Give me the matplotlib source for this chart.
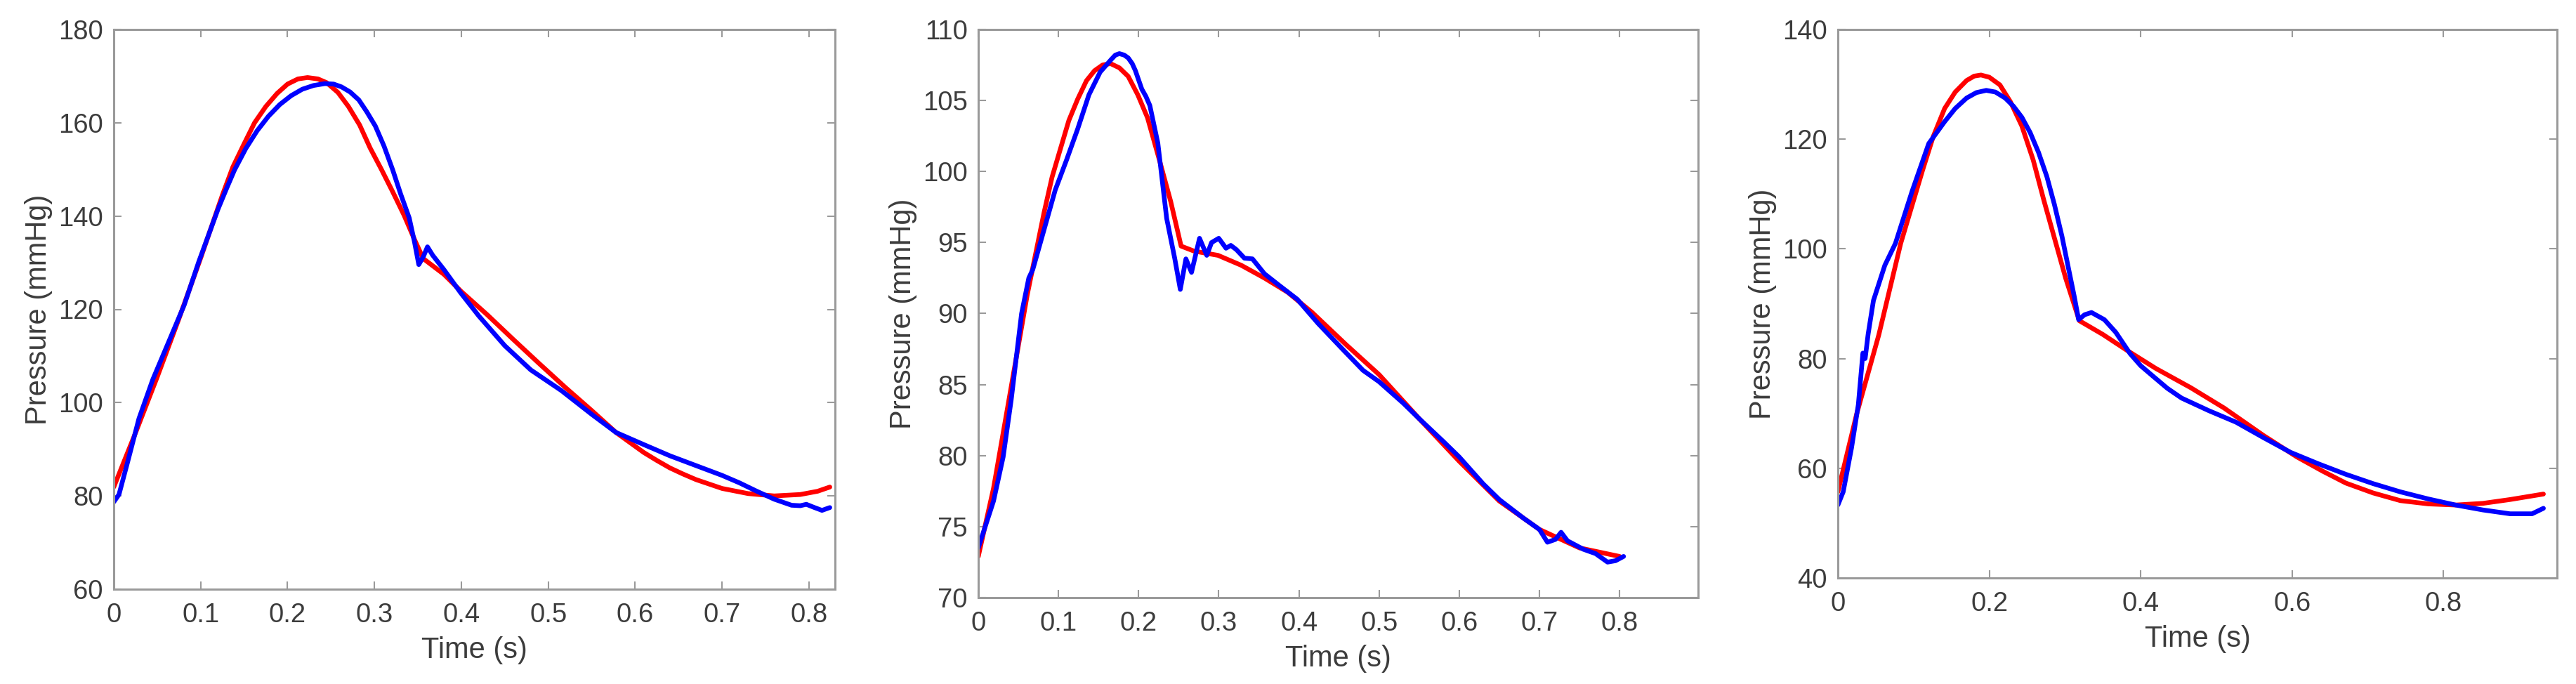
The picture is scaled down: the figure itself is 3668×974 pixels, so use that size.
import matplotlib
matplotlib.use("Agg")
import matplotlib.pyplot as plt

plt.rcParams['font.family'] = ['Liberation Sans', 'DejaVu Sans']

# --- panel 1 ---
t1_red = [0, 0.025, 0.05, 0.075, 0.10, 0.125, 0.137, 0.15, 0.162, 0.175, 0.188, 0.20, 0.212,
          0.223, 0.235, 0.245, 0.258, 0.27, 0.283, 0.295, 0.308, 0.321, 0.334, 0.346, 0.356,
          0.38, 0.40, 0.43, 0.46, 0.49, 0.52, 0.55, 0.578, 0.61, 0.625, 0.64, 0.655, 0.67,
          0.70, 0.73, 0.76, 0.79, 0.81, 0.824]
p1_red = [81.9, 93.5, 105.5, 118.0, 131.0, 144.5, 150.5, 155.5, 160.0, 163.5, 166.3, 168.3, 169.4,
          169.7, 169.4, 168.6, 166.5, 163.5, 159.5, 154.6, 150.0, 145.2, 140.2, 135.0, 130.9,
          127.5, 123.8, 118.8, 113.5, 108.3, 103.2, 98.3, 93.6, 89.3, 87.6, 86.0, 84.7, 83.5,
          81.6, 80.5, 80.0, 80.3, 81.0, 81.9]
t1_blue = [0, 0.006, 0.016, 0.029, 0.045, 0.062, 0.081, 0.098, 0.12, 0.13, 0.139, 0.152, 0.165,
           0.178, 0.191, 0.204, 0.217, 0.23, 0.243, 0.253, 0.262, 0.272, 0.282, 0.291, 0.301,
           0.311, 0.321, 0.33, 0.34, 0.346, 0.351, 0.356, 0.361, 0.367, 0.38, 0.399, 0.42,
           0.45, 0.48, 0.515, 0.55, 0.578, 0.61, 0.64, 0.67, 0.70, 0.72, 0.74, 0.76, 0.78, 0.79,
           0.797, 0.805, 0.815, 0.824]
p1_blue = [78.7, 80.3, 87.3, 96.6, 105.0, 112.5, 120.9, 130.3, 141.5, 146.0, 149.9, 154.5, 158.3,
           161.4, 163.9, 165.8, 167.2, 168.0, 168.4, 168.3, 167.7, 166.6, 164.9, 162.4, 159.3,
           155.0, 149.9, 144.8, 139.6, 134.5, 129.6, 131.2, 133.4, 131.6, 128.5, 123.6, 118.6,
           112.2, 107.0, 102.6, 97.5, 93.6, 91.0, 88.6, 86.5, 84.4, 82.8, 81.0, 79.3, 78.0, 77.9,
           78.2, 77.6, 76.9, 77.5]

# --- panel 2 ---
t2_red = [0, 0.019, 0.04, 0.061, 0.082, 0.092, 0.103, 0.113, 0.124, 0.135, 0.145, 0.155, 0.165,
          0.176, 0.187, 0.199, 0.211, 0.225, 0.240, 0.253, 0.269, 0.299, 0.328, 0.357, 0.386,
          0.416, 0.459, 0.5, 0.55, 0.6, 0.65, 0.7, 0.75, 0.8]
p2_red = [72.9, 77.7, 84.5, 91.3, 97.1, 99.6, 101.7, 103.6, 105.1, 106.4, 107.1, 107.5, 107.6,
          107.3, 106.7, 105.4, 103.8, 101.0, 97.9, 94.75, 94.4, 94.1, 93.4, 92.5, 91.5,
          90.1, 87.8, 85.7, 82.6, 79.6, 76.8, 74.8, 73.5, 72.9]
t2_blue = [0, 0.019, 0.031, 0.041, 0.054, 0.063, 0.068, 0.082, 0.096, 0.11, 0.124, 0.138, 0.152,
           0.166, 0.171, 0.176, 0.182, 0.187, 0.192, 0.196, 0.204, 0.209, 0.214, 0.224, 0.235,
           0.245, 0.252, 0.259, 0.266, 0.276, 0.285, 0.291, 0.300, 0.309, 0.315, 0.322, 0.332,
           0.342, 0.357, 0.375, 0.398, 0.424, 0.456, 0.48, 0.5, 0.53, 0.55, 0.58, 0.6, 0.63,
           0.65, 0.68, 0.7, 0.71, 0.72, 0.727, 0.735, 0.745, 0.755, 0.77, 0.785, 0.795, 0.805]
p2_blue = [73.5, 76.8, 79.9, 83.9, 90.0, 92.5, 93.1, 95.9, 98.7, 100.8, 103.0, 105.4, 107.0,
           107.9, 108.2, 108.3, 108.2, 108.0, 107.6, 107.1, 105.8, 105.3, 104.65, 102.0, 96.7,
           93.9, 91.7, 93.85, 92.9, 95.3, 94.1, 95.0, 95.3, 94.6, 94.8, 94.5, 93.9,
           93.85, 92.8, 92.0, 91.0, 89.3, 87.4, 86.0, 85.2, 83.7, 82.6, 81.0, 79.9, 78.0,
           76.9, 75.6, 74.8, 73.9, 74.1, 74.6, 74.0, 73.7, 73.4, 73.1, 72.5, 72.6, 72.9]

# --- panel 3 ---
t3_red = [0, 0.025, 0.054, 0.083, 0.112, 0.126, 0.141, 0.155, 0.17, 0.18, 0.189, 0.2, 0.214,
          0.228, 0.243, 0.258, 0.272, 0.287, 0.301, 0.319, 0.35, 0.383, 0.42, 0.466, 0.51,
          0.562, 0.606, 0.64, 0.671, 0.707, 0.743, 0.78, 0.816, 0.852, 0.888, 0.932]
p3_red = [55.7, 70.0, 84.3, 101.0, 114.4, 120.5, 125.6, 128.6, 130.7, 131.5, 131.7, 131.3, 129.9,
          126.8, 122.4, 116.2, 108.9, 101.5, 94.6, 86.9, 84.4, 81.4, 78.2, 74.7, 71.0,
          66.0, 62.1, 59.5, 57.3, 55.5, 54.1, 53.5, 53.3, 53.6, 54.3, 55.3]
t3_blue = [0, 0.007, 0.018, 0.027, 0.033, 0.036, 0.04, 0.047, 0.062, 0.076, 0.098, 0.12, 0.141,
           0.155, 0.17, 0.183, 0.196, 0.208, 0.221, 0.232, 0.243, 0.254, 0.265, 0.276, 0.286,
           0.296, 0.305, 0.312, 0.318, 0.326, 0.335, 0.352, 0.367, 0.386, 0.40, 0.417, 0.435,
           0.454, 0.49, 0.526, 0.562, 0.598, 0.635, 0.671, 0.707, 0.743, 0.78, 0.816, 0.852,
           0.888, 0.917, 0.932]
p3_blue = [53.3, 55.7, 63.7, 71.6, 81.0, 80.0, 84.5, 90.6, 97.0, 101.0, 110.5, 119.2, 123.2,
           125.6, 127.5, 128.5, 128.9, 128.6, 127.5, 126.0, 124.0, 121.2, 117.6, 113.2, 108.1,
           102.3, 96.2, 91.5, 87.1, 88.0, 88.4, 87.1, 84.8, 80.9, 78.7, 76.7, 74.6,
           72.8, 70.5, 68.4, 65.6, 62.9, 60.8, 58.9, 57.2, 55.7, 54.4, 53.3, 52.4,
           51.7, 51.7, 52.7]

x_ticks_1 = [0, 0.1, 0.2, 0.3, 0.4, 0.5, 0.6, 0.7, 0.8]
x_ticks_3 = [0, 0.2, 0.4, 0.6, 0.8]
y_ticks_1 = [60, 80, 100, 120, 140, 160, 180]
y_ticks_2 = [70, 75, 80, 85, 90, 95, 100, 105, 110]
y_ticks_3 = [40, 60, 80, 100, 120, 140]

W, H = 3668, 974
fig = plt.figure(figsize=(W / 100, H / 100), dpi=100)

# axes boxes in pixels: left, top, right, bottom
boxes = [(162, 42, 1189, 839), (1393, 42, 2418, 851), (2617, 42, 3641, 823)]
panels = [
    (t1_red, p1_red, t1_blue, p1_blue, (0, 0.83), (60, 180), x_ticks_1, y_ticks_1),
    (t2_red, p2_red, t2_blue, p2_blue, (0, 0.898), (70, 110), x_ticks_1, y_ticks_2),
    (t3_red, p3_red, t3_blue, p3_blue, (0, 0.95), (40, 140), x_ticks_3, y_ticks_3),
]

spine_col = '#9a9a9a'
text_col = '#3c3c3c'

for (l, t, r, b), (tr, pr, tb, pb, xl, yl, xt, yt) in zip(boxes, panels):
    ax = fig.add_axes([l / W, 1 - b / H, (r - l) / W, (b - t) / H])
    ax.plot(tr, pr, color='#ff0000', lw=4.8, solid_joinstyle='round', solid_capstyle='round')
    ax.plot(tb, pb, color='#0000ff', lw=4.8, solid_joinstyle='round', solid_capstyle='round')
    ax.set_xlim(*xl)
    ax.set_ylim(*yl)
    ax.set_xticks(xt)
    ax.set_yticks(yt)
    ax.set_xticklabels([f'{v:g}' for v in xt])
    ax.tick_params(direction='in', length=8, width=1.5, color=spine_col,
                   top=True, right=True, labelsize=27.5, labelcolor=text_col)
    ax.tick_params(axis='x', pad=14)
    ax.tick_params(axis='y', pad=11)
    for s in ax.spines.values():
        s.set_color(spine_col)
        s.set_linewidth(2.2)
    ax.set_xlabel('Time (s)', fontsize=30, color=text_col, labelpad=8)
    ax.set_ylabel('Pressure (mmHg)', fontsize=30, color=text_col, labelpad=6)

fig.savefig('out.png', dpi=100, facecolor='white')
